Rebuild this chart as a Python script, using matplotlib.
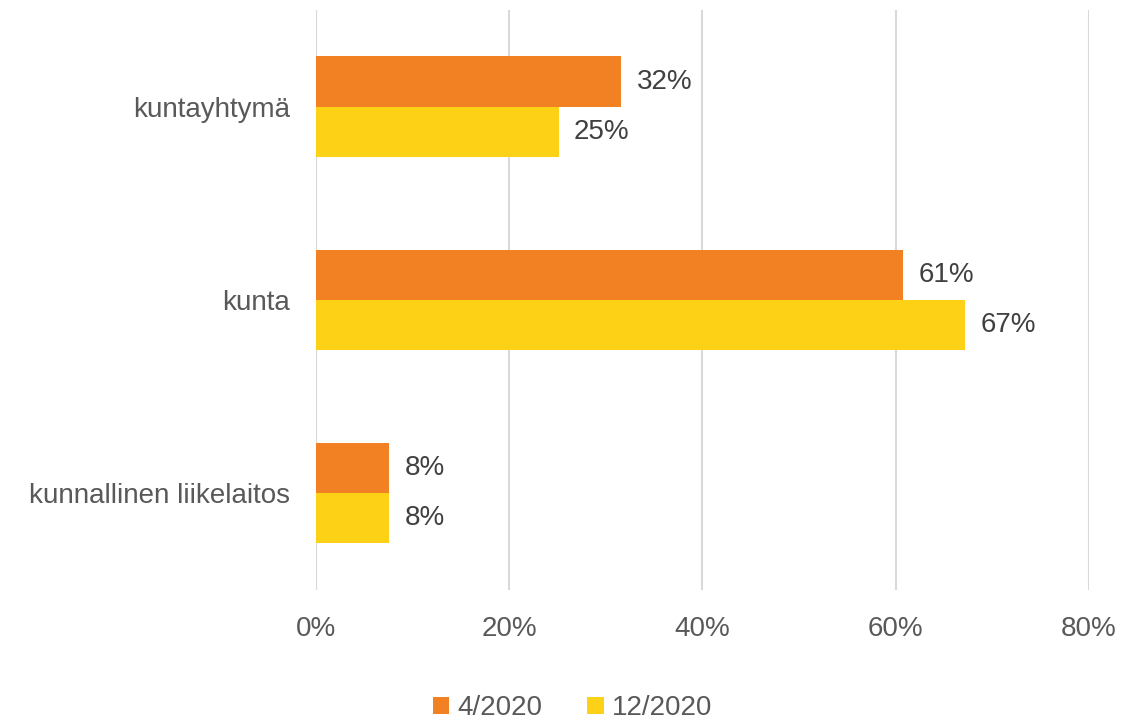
import numpy as np
from matplotlib import pyplot as plt
from matplotlib.ticker import PercentFormatter

plt.rcParams['font.family'] = ['Liberation Sans', 'DejaVu Sans']

categories = ["kuntayhtymä", "kunta", "kunnallinen liikelaitos"]
series_names = ["4/2020", "12/2020"]
values_apr = [31.6, 60.8, 7.6]
values_dec = [25.1, 67.2, 7.6]
colors = ["#F28123", "#FCD116"]
text_color = "#595959"

fig = plt.figure(figsize=(11.45, 7.21), dpi=100)
ax = fig.add_axes([0.276, 0.182, 0.675, 0.804])

y = np.arange(len(categories))
h = 0.26
bars1 = ax.barh(y - h / 2, values_apr, height=h, color=colors[0], label=series_names[0], zorder=2)
bars2 = ax.barh(y + h / 2, values_dec, height=h, color=colors[1], label=series_names[1], zorder=2)

for bars, vals in ((bars1, values_apr), (bars2, values_dec)):
    for b, v in zip(bars, vals):
        ax.text(b.get_width() + 1.6, b.get_y() + b.get_height() / 2, f"{round(v)}%",
                va="center", ha="left", fontsize=20, color="#404040")

ax.set_xlim(0, 80)
ax.set_ylim(2.5, -0.5)
ax.set_xticks([0, 20, 40, 60, 80])
ax.xaxis.set_major_formatter(PercentFormatter(decimals=0))
ax.set_yticks(y)
ax.set_yticklabels(categories)
ax.tick_params(axis="both", length=0, labelsize=20, labelcolor=text_color)
ax.tick_params(axis="x", pad=19)
ax.tick_params(axis="y", pad=19)
ax.grid(axis="x", color="#d9d9d9", linewidth=1.5, zorder=0)
for s in ax.spines.values():
    s.set_visible(False)

fig.legend(loc="lower center", bbox_to_anchor=(0.5, -0.035), ncol=2, frameon=False,
           fontsize=20, labelcolor=text_color, handlelength=0.6, handleheight=0.6,
           handletextpad=0.3, columnspacing=1.6)

plt.savefig("out.png")
